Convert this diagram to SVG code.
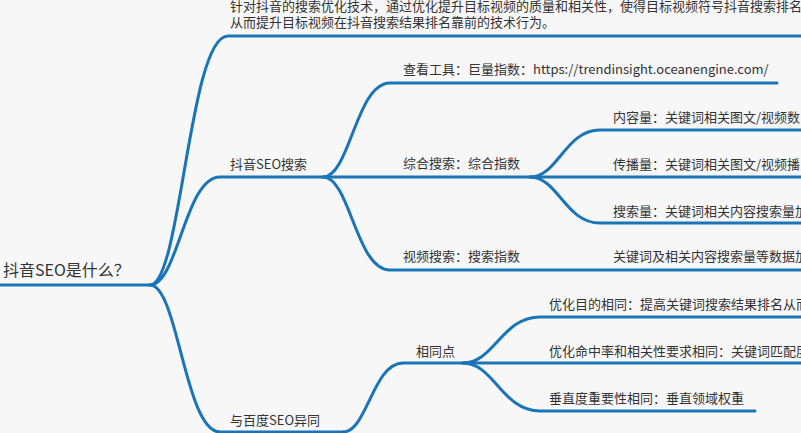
<svg xmlns="http://www.w3.org/2000/svg" width="801" height="433" viewBox="0 0 801 433">
<style>
.bg{fill:#f7f7f8}
.c{fill:none;stroke:#1a74b8;stroke-width:3;stroke-linecap:round}
text{font-family:"Noto Sans CJK SC","Noto Sans",sans-serif;fill:#333333;font-size:13px}
.root{font-size:16px}
</style>
<rect class="bg" x="0" y="0" width="801" height="433"/>
<g id="connectors">
<path class="c" d="M0 285H150"/>
<path class="c" d="M150 285C181 285 189 36 228 36H805"/>
<path class="c" d="M150 285C178 285 185 177 220 177H323"/>
<path class="c" d="M150 285C178 285 185 432 220 432H343"/>
<path class="c" d="M323 177C350 177 356 83 390 83H777"/>
<path class="c" d="M323 177H805"/>
<path class="c" d="M323 177C350 177 356 270 390 270H805"/>
<path class="c" d="M530 177C558 177 565 130 600 130H805"/>
<path class="c" d="M530 177C558 177 565 223 600 223H805"/>
<path class="c" d="M343 432C367 432 373 363 403 363H805"/>
<path class="c" d="M463 363C494 363 502 317 540 317H805"/>
<path class="c" d="M463 363C494 363 502 411 540 411H755"/>
</g>
<g id="root"><text class="root" x="3" y="276">抖音SEO是什么？</text></g>
<g id="definition">
<text x="230" y="10.5">针对抖音的搜索优化技术，通过优化提升目标视频的质量和相关性，使得目标视频符号抖音搜索排名</text>
<text x="230" y="26.5">从而提升目标视频在抖音搜索结果排名靠前的技术行为。</text>
</g>
<g id="douyin-seo"><text x="230" y="168.5">抖音SEO搜索</text></g>
<g id="tool"><text x="403" y="74">查看工具：巨量指数：https://trendinsight.oceanengine.com/</text></g>
<g id="comprehensive"><text x="403" y="168">综合搜索：综合指数</text></g>
<g id="video-search"><text x="403" y="261">视频搜索：搜索指数</text></g>
<g id="content"><text x="613" y="122">内容量：关键词相关图文/视频数</text></g>
<g id="spread"><text x="613" y="168.5">传播量：关键词相关图文/视频播</text></g>
<g id="search-volume"><text x="613" y="215.5">搜索量：关键词相关内容搜索量加</text></g>
<g id="video-data"><text x="613" y="261">关键词及相关内容搜索量等数据加</text></g>
<g id="baidu"><text x="230" y="424.5">与百度SEO异同</text></g>
<g id="same"><text x="416" y="355.5">相同点</text></g>
<g id="same-goal"><text x="549" y="309">优化目的相同：提高关键词搜索结果排名从而</text></g>
<g id="same-hit"><text x="549" y="355.5">优化命中率和相关性要求相同：关键词匹配度</text></g>
<g id="same-vertical"><text x="549" y="402.5">垂直度重要性相同：垂直领域权重</text></g>
</svg>
